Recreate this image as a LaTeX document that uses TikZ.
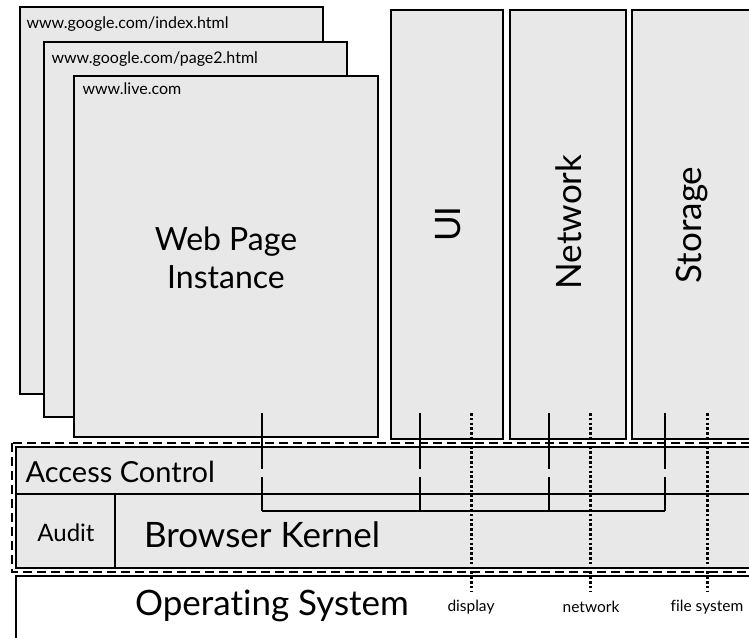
\documentclass[tikz,border=0pt]{standalone}
\usepackage{fontspec}
\setmainfont{Lato}[Ligatures=NoCommon]
\usetikzlibrary{calc}
\definecolor{boxgrey}{gray}{0.91}
\tikzset{
	pagebox/.style={line width=1.8, fill=boxgrey},
	modbox/.style={line width=2.4, fill=boxgrey},
	link/.style={line width=1.6},
	syscall/.style={line width=3, dash pattern=on 2.6 off 2.2},
	bigtext/.style={font=\fontsize{35}{40}\selectfont},
	urltext/.style={anchor=west, font=\fontsize{16}{18}\selectfont},
	smalltext/.style={font=\fontsize{15.5}{18}\selectfont}
}

\begin{document}
\begin{tikzpicture}[x=1pt, y=-1pt]
		%%%%% START %%%%%
		\clip (0, 0) rectangle (749, 637);
		
		% web page instances
		\draw[pagebox] (20, 7) rectangle (323, 394);
		\node[urltext] (url1) at (23, 24) {www.google.com/index.html};
		\draw[pagebox] (44, 42) rectangle (347, 417);
		\node[urltext] (url2) at (48, 59) {www.google.com/page2.html};
		\draw[pagebox] (74, 76) rectangle (378, 437);
		\node[urltext] (url3) at (79, 89) {www.live.com};
		\node[font=\fontsize{32}{38}\selectfont, align=center] (wpi) at (226, 258) {Web Page\\Instance};
		
		% browser modules
		\draw[modbox] (391, 10) rectangle (503, 439);
		\node[bigtext, rotate=90] (ui) at (448, 224) {UI};
		\draw[modbox] (510, 10) rectangle (626, 439);
		\node[bigtext, rotate=90] (net) at (569, 222) {Network};
		\draw[modbox] (632, 10) rectangle (770, 439);
		\node[bigtext, rotate=90] (sto) at (692, 225) {Storage};
		
		% kernel
		\draw[line width=1.6, dash pattern=on 9 off 5] (12, 443) rectangle (770, 572);
		\draw[line width=1.6, fill=boxgrey] (16, 447) rectangle (770, 568);
		\draw[line width=1.6] (16, 494) -- (770, 494);
		\draw[line width=1.6] (115, 494) -- (115, 568);
		\node[anchor=west, font=\fontsize{29}{34}\selectfont] (acl) at (22, 472) {Access Control};
		\node[font=\fontsize{24}{28}\selectfont] (audit) at (66, 533) {Audit};
		\node[bigtext] (kernel) at (262, 535) {Browser Kernel};
		
		% operating system
		\draw[line width=1.6, fill=white] (16, 576) rectangle (770, 660);
		\node[bigtext] (os) at (272, 606) {Operating System};
		\node[smalltext] (disp) at (471, 607) {display};
		\node[smalltext] (netw) at (591, 607) {network};
		\node[smalltext] (fs) at (707, 607) {file system};
		
		% links to the kernel
		\foreach \x in {262, 420, 549, 665} {
			\draw[link] (\x, 413) -- (\x, 469);
			\draw[link] (\x, 477) -- (\x, 511);
		}
		\draw[link] (262, 511) -- (665, 511);
		
		% system calls
		\foreach \x in {471, 590, 707}
			\draw[syscall] (\x, 413) -- (\x, 592);
		
		%%%%% END %%%%%
\end{tikzpicture}
\end{document}
